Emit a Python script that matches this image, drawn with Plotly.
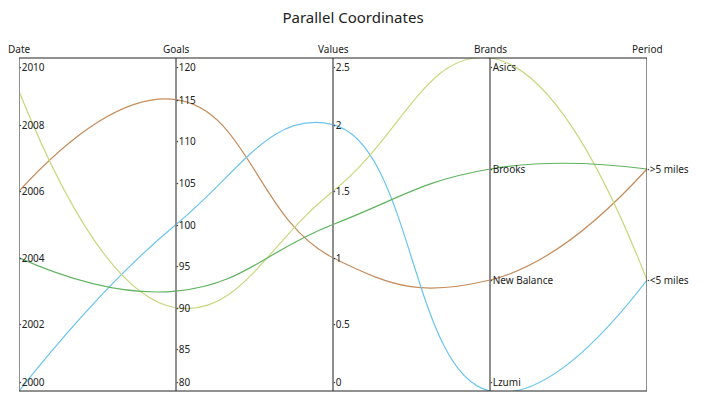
import plotly.graph_objects as go

# Data
dimensions = ["Date", "Goals", "Values", "Brands", "Period"]

date_ticks = [2000, 2002, 2004, 2006, 2008, 2010]
goals_ticks = [80, 85, 90, 95, 100, 105, 110, 115, 120]
values_ticks = [0, 0.5, 1, 1.5, 2, 2.5]
brands = ["Lzumi", "New Balance", "Brooks", "Asics"]
periods = ["<5 miles", ">5 miles"]

series_names = ["A", "B", "C", "D"]
series_date = [2006, 2000, 2009, 2004]
series_goals = [115, 100, 90, 92]
series_values = [1, 2, 1.5, 1.25]
series_brand = ["New Balance", "Lzumi", "Asics", "Brooks"]
series_period = [">5 miles", "<5 miles", "<5 miles", ">5 miles"]
series_colors = ["#c58c5c", "#6cc4ee", "#c9d77e", "#5fb35f"]


def scale(v, lo, hi):
    return (v - lo) / (hi - lo)


def brand_pos(b):
    return scale(brands.index(b), 0, len(brands) - 1)


def period_pos(p):
    return scale(periods.index(p) + 1, 0, len(periods) + 1)


fig = go.Figure()

for i in range(len(series_names)):
    ys = [
        scale(series_date[i], date_ticks[0], date_ticks[-1]),
        scale(series_goals[i], goals_ticks[0], goals_ticks[-1]),
        scale(series_values[i], values_ticks[0], values_ticks[-1]),
        brand_pos(series_brand[i]),
        period_pos(series_period[i]),
    ]
    fig.add_trace(go.Scatter(
        x=list(range(len(dimensions))), y=ys, mode="lines",
        line=dict(color=series_colors[i], width=1.2, shape="spline", smoothing=1.3),
        name=series_names[i], hoverinfo="skip",
    ))

# axis lines
for k in range(len(dimensions)):
    last = k == len(dimensions) - 1
    fig.add_shape(type="line", xref="x", yref="paper", x0=k, x1=k, y0=0, y1=1,
                  line=dict(color="#222" if last else "#8f8f8f", width=1 if last else 2))
fig.add_shape(type="line", xref="paper", yref="paper", x0=0, x1=1, y0=1, y1=1,
              line=dict(color="#222", width=1))
fig.add_shape(type="line", xref="paper", yref="paper", x0=0, x1=1, y0=0, y1=0,
              line=dict(color="#222", width=1))

tick_font = dict(family="Noto Sans, Open Sans, sans-serif", size=10, color="#222")

# axis titles
for k, name in enumerate(dimensions):
    fig.add_annotation(x=k, y=1, xref="x", yref="paper", text=name, showarrow=False,
                       xanchor="center", yanchor="bottom", yshift=0, font=tick_font)

# tick labels
axis_ticks = [
    [(scale(v, date_ticks[0], date_ticks[-1]), str(v)) for v in date_ticks],
    [(scale(v, goals_ticks[0], goals_ticks[-1]), str(v)) for v in goals_ticks],
    [(scale(v, values_ticks[0], values_ticks[-1]), f"{v:g}") for v in values_ticks],
    [(brand_pos(b), b) for b in brands],
    [(period_pos(p), p) for p in periods],
]
for k, ticks in enumerate(axis_ticks):
    for pos, label in ticks:
        if pos >= 1:
            ya = "top"
        elif pos <= 0:
            ya = "bottom"
        else:
            ya = "middle"
        fig.add_annotation(x=k, y=pos, xref="x", yref="y", text="·" + label,
                           showarrow=False, xanchor="left", yanchor=ya,
                           xshift=-2, font=tick_font)

# the page body adds an 8px offset, so the figure is sized to fit inside the window
fig.update_layout(
    width=697, height=403,
    title=dict(text="Parallel Coordinates", x=0.495, xanchor="center", y=0.99, yanchor="top",
               font=dict(family="Noto Sans, Open Sans, sans-serif", size=15, color="#222")),
    margin=dict(l=11, r=58, t=50, b=20, autoexpand=False),
    plot_bgcolor="white", paper_bgcolor="white",
    showlegend=False,
    xaxis=dict(range=[0, len(dimensions) - 1], visible=False, fixedrange=True),
    yaxis=dict(range=[0, 1], visible=False, fixedrange=True),
)

fig.write_html("out.html")
